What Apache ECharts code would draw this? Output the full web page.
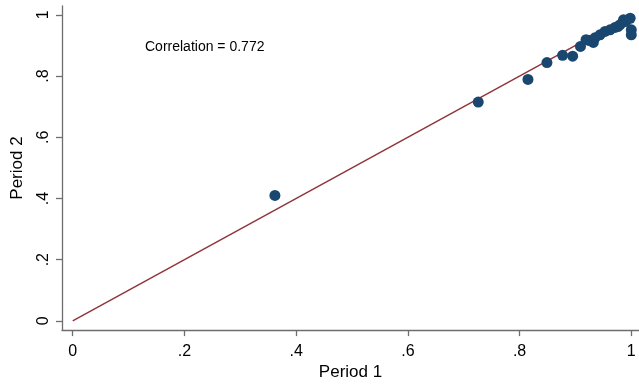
<!DOCTYPE html>
<html>
<head>
<meta charset="utf-8">
<script src="https://cdn.jsdelivr.net/npm/echarts@6/dist/echarts.min.js"></script>
<style>html,body{margin:0;padding:0;background:#fff;}#c{width:639px;height:386px;}</style>
</head>
<body>
<div id="c"></div>
<script>
// Data
var period1 = [0.362, 0.726, 0.815, 0.849, 0.877, 0.895, 0.909, 0.919, 0.925, 0.932, 0.935, 0.944, 0.953, 0.962, 0.971, 0.976, 0.980, 0.986, 0.990, 0.998, 1.000, 1.000];
var period2 = [0.410, 0.715, 0.789, 0.844, 0.868, 0.865, 0.897, 0.919, 0.916, 0.910, 0.925, 0.935, 0.946, 0.951, 0.959, 0.962, 0.968, 0.984, 0.978, 0.989, 0.951, 0.935];
var fitX = [0, 1];
var fitY = [0, 1];
var tickValues = [0, 0.2, 0.4, 0.6, 0.8, 1];
var annotation = "Correlation = 0.772";
var xTitle = "Period 1";
var yTitle = "Period 2";

function fmt(v) {
  var s = (Math.round(v * 10) / 10).toString();
  if (s.indexOf('0.') === 0) s = s.substring(1);
  return s;
}

var points = period1.map(function (x, i) { return [x, period2[i]]; });
var fitLine = fitX.map(function (x, i) { return [x, fitY[i]]; });

var chart = echarts.init(document.getElementById('c'), null, {renderer: 'canvas'});
var font = '"Liberation Sans", Arial, sans-serif';
chart.setOption({
  animation: false,
  backgroundColor: '#ffffff',
  grid: {left: 62, right: 0, top: 6, bottom: 53},
  xAxis: {
    type: 'value',
    min: -0.0192, max: 1.0138,
    splitLine: {show: false},
    axisLine: {show: true, onZero: false, lineStyle: {color: '#6e6e6e', width: 1.3}},
    axisTick: {show: true, customValues: tickValues, length: 6, lineStyle: {color: '#6e6e6e', width: 1.3}},
    axisLabel: {customValues: tickValues, formatter: fmt, color: '#000', fontSize: 16, fontFamily: font, margin: 13},
    name: xTitle, nameLocation: 'middle', nameGap: 31,
    nameTextStyle: {color: '#000', fontSize: 17, fontFamily: font}
  },
  yAxis: {
    type: 'value',
    min: -0.0301, max: 1.029,
    splitLine: {show: false},
    axisLine: {show: true, onZero: false, lineStyle: {color: '#6e6e6e', width: 1.3}},
    axisTick: {show: true, customValues: tickValues, length: 6, lineStyle: {color: '#6e6e6e', width: 1.3}},
    axisLabel: {customValues: tickValues, formatter: fmt, color: '#000', fontSize: 16, fontFamily: font, rotate: 90, margin: 10},
    name: yTitle, nameLocation: 'middle', nameGap: 36,
    nameTextStyle: {color: '#000', fontSize: 17, fontFamily: font}
  },
  graphic: [{
    type: 'text', left: 145, top: 40,
    style: {text: annotation, fill: '#000', font: '14px "Liberation Sans", Arial, sans-serif'}
  }],
  series: [
    {
      type: 'line', data: fitLine, symbol: 'none',
      lineStyle: {color: '#90353b', width: 1.5}, z: 1
    },
    {
      type: 'scatter', data: points, symbol: 'circle', symbolSize: 11,
      itemStyle: {color: '#1a476f', opacity: 1}, z: 2
    }
  ]
});
</script>
</body>
</html>
